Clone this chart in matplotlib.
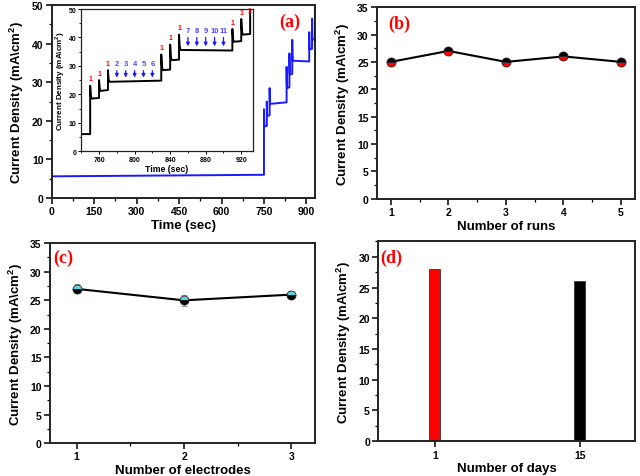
import matplotlib
matplotlib.use("Agg")
import matplotlib.pyplot as plt
from matplotlib.ticker import MultipleLocator

plt.rcParams['font.family'] = ['Liberation Sans', 'DejaVu Sans']
plt.rcParams['font.weight'] = 'bold'
plt.rcParams['mathtext.fontset'] = 'custom'
plt.rcParams['mathtext.bf'] = 'Liberation Sans:bold'
plt.rcParams['mathtext.rm'] = 'Liberation Sans:bold'

# ---------------- data ----------------
# (a) chronoamperometry
baseline_t = [0, 750]
baseline_v = [5.6, 6.0]
event_t = [750, 760, 770, 830, 840, 850, 910, 920, 930]
event_peak = [23.0, 25.0, 28.5, 34.0, 37.5, 41.0, 43.0, 46.5, 53.0]
event_plateau_start = [18.5, 21.2, 24.4, 28.5, 32.0, 35.6, 38.5, 41.0, 52.0]
event_plateau_end = [18.7, 21.5, 24.8, 28.7, 32.2, 35.4, 38.7, 41.2, 52.0]
arrow_t_1 = [780, 790, 800, 810, 820]
arrow_lbl_1 = ['2', '3', '4', '5', '6']
arrow_t_2 = [860, 870, 880, 890, 900]
arrow_lbl_2 = ['7', '8', '9', '10', '11']

# (b) runs
runs = [1, 2, 3, 4, 5]
runs_val = [25, 27, 25, 26, 25]
runs_err = [0.5, 0.5, 0.5, 0.5, 0.5]

# (c) electrodes
electrodes = [1, 2, 3]
electrodes_val = [27, 25, 26]
electrodes_err = [0.8, 1.0, 0.6]

# (d) days
days = ['1', '15']
days_val = [28, 26]
days_colors = ['#ff0000', '#000000']

# build step curve from read values
t_curve = list(baseline_t)
v_curve = list(baseline_v)
for i, t in enumerate(event_t):
    end_t = event_t[i + 1] if i + 1 < len(event_t) else t + 10
    p0 = event_plateau_start[i]
    t_curve += [t, t, t + 0.7, t + 1.6, end_t]
    v_curve += [v_curve[-1], event_peak[i], p0 + 0.25 * (event_peak[i] - p0), p0, event_plateau_end[i]]

fig = plt.figure(figsize=(6.4, 4.77), dpi=100)

ylab = r'Current Density (mA\cm$^\mathbf{2}$)'
LBL = 9.5
TCK = 7.5


def style(ax, lw=1.4, tl=TCK):
    for s in ax.spines.values():
        s.set_linewidth(lw)
        s.set_color('#222222')
    ax.tick_params(which='major', direction='out', length=4, width=1.1, labelsize=tl, pad=2)
    ax.tick_params(which='minor', direction='out', length=2.2, width=0.9)
    for lab in ax.get_xticklabels() + ax.get_yticklabels():
        lab.set_fontweight('bold')


def panel_label(ax, s, x, y):
    ax.text(x, y, s, transform=ax.transAxes, color='red', fontsize=13,
            fontweight='bold', family='Liberation Serif', ha='left', va='center')


# ---------------- (a) ----------------
axa = fig.add_axes([0.081, 0.583, 0.411, 0.404])
axa.plot(t_curve, v_curve, color='#1a1aff', lw=1.4)
axa.set_xlim(0, 930)
axa.set_ylim(0, 50)
axa.xaxis.set_major_locator(MultipleLocator(150))
axa.xaxis.set_minor_locator(MultipleLocator(75))
axa.yaxis.set_major_locator(MultipleLocator(10))
axa.yaxis.set_minor_locator(MultipleLocator(5))
axa.set_xlabel('Time (sec)', fontsize=LBL, fontweight='bold', labelpad=2)
axa.set_ylabel(ylab, fontsize=LBL, fontweight='bold', labelpad=4)
style(axa)
panel_label(axa, '(a)', 0.865, 0.917)

# inset
axi = fig.add_axes([0.127, 0.681, 0.268, 0.298])
axi.plot(t_curve, v_curve, color='black', lw=1.4)
axi.set_xlim(740, 933)
axi.set_ylim(0, 50)
axi.xaxis.set_major_locator(MultipleLocator(40))
axi.xaxis.set_minor_locator(MultipleLocator(20))
axi.yaxis.set_major_locator(MultipleLocator(10))
axi.yaxis.set_minor_locator(MultipleLocator(5))
axi.set_xlabel('Time (sec)', fontsize=6.3, fontweight='bold', labelpad=1)
axi.set_ylabel(ylab, fontsize=5.8, fontweight='bold', labelpad=1)
style(axi, lw=0.9, tl=5)
axi.tick_params(which='major', length=2.5, width=0.7, pad=1)
axi.tick_params(which='minor', length=1.5, width=0.6)
for i, t in enumerate(event_t):
    if i == len(event_t) - 1:
        axi.text(t - 1, 48.3, '1', color='red', fontsize=5, ha='center', va='bottom', clip_on=False)
    else:
        axi.text(t, event_peak[i] + 1.2, '1', color='red', fontsize=5, ha='center', va='bottom')
for t, lbl in zip(arrow_t_1, arrow_lbl_1):
    axi.annotate('', xy=(t, 24.9), xytext=(t, 29.3),
                 arrowprops=dict(arrowstyle='-|>', color='#1a1aff', lw=0.9, mutation_scale=5))
    axi.text(t, 29.6, lbl, color='#4a4aff', fontsize=5.5, ha='center', va='bottom')
for t, lbl in zip(arrow_t_2, arrow_lbl_2):
    axi.annotate('', xy=(t, 35.9), xytext=(t, 41.0),
                 arrowprops=dict(arrowstyle='-|>', color='#1a1aff', lw=0.9, mutation_scale=5))
    axi.text(t, 41.3, lbl, color='#4a4aff', fontsize=5.5, ha='center', va='bottom')

# ---------------- (b) ----------------
axb = fig.add_axes([0.589, 0.581, 0.403, 0.402])
axb.errorbar(runs, runs_val, yerr=runs_err, color='black', lw=1.5, ecolor='#888888',
             elinewidth=1, capsize=2, marker='o', markersize=6.5, fillstyle='top',
             markerfacecolor='black', markerfacecoloralt='red', markeredgecolor='#222222',
             markeredgewidth=0.6)
axb.set_xlim(0.76, 5.24)
axb.set_ylim(0, 35)
axb.xaxis.set_major_locator(MultipleLocator(1))
axb.xaxis.set_minor_locator(MultipleLocator(0.5))
axb.yaxis.set_major_locator(MultipleLocator(5))
axb.yaxis.set_minor_locator(MultipleLocator(2.5))
axb.set_xlabel('Number of runs', fontsize=LBL, fontweight='bold', labelpad=2)
axb.set_ylabel(ylab, fontsize=LBL, fontweight='bold', labelpad=4)
style(axb)
panel_label(axb, '(b)', 0.043, 0.915)

# ---------------- (c) ----------------
axc = fig.add_axes([0.078, 0.069, 0.414, 0.419])
axc.errorbar(electrodes, electrodes_val, yerr=electrodes_err, color='black', lw=1.5,
             ecolor='#888888', elinewidth=1, capsize=2, marker='o', markersize=6.5,
             fillstyle='top', markerfacecolor='#5fd3e6', markerfacecoloralt='black',
             markeredgecolor='#222222', markeredgewidth=0.6)
axc.set_xlim(0.75, 3.22)
axc.set_ylim(0, 35)
axc.xaxis.set_major_locator(MultipleLocator(1))
axc.xaxis.set_minor_locator(MultipleLocator(0.5))
axc.yaxis.set_major_locator(MultipleLocator(5))
axc.yaxis.set_minor_locator(MultipleLocator(2.5))
axc.set_xlabel('Number of electrodes', fontsize=LBL, fontweight='bold', labelpad=2)
axc.set_ylabel(ylab, fontsize=LBL, fontweight='bold', labelpad=4)
style(axc)
panel_label(axc, '(c)', 0.011, 0.93)

# ---------------- (d) ----------------
axd = fig.add_axes([0.591, 0.073, 0.401, 0.42])
xpos = list(range(len(days)))
axd.bar(xpos, days_val, width=0.076, color=days_colors, edgecolor='#333333', linewidth=0.6)
axd.set_xticks(xpos)
axd.set_xticklabels(days)
axd.set_xlim(-0.39, 1.38)
axd.set_ylim(0, 32.6)
axd.yaxis.set_major_locator(MultipleLocator(5))
axd.yaxis.set_minor_locator(MultipleLocator(2.5))
axd.set_xlabel('Number of days', fontsize=LBL, fontweight='bold', labelpad=2)
axd.set_ylabel(ylab, fontsize=LBL, fontweight='bold', labelpad=4)
style(axd)
panel_label(axd, '(d)', 0.008, 0.92)

fig.savefig('out.png', dpi=100)
